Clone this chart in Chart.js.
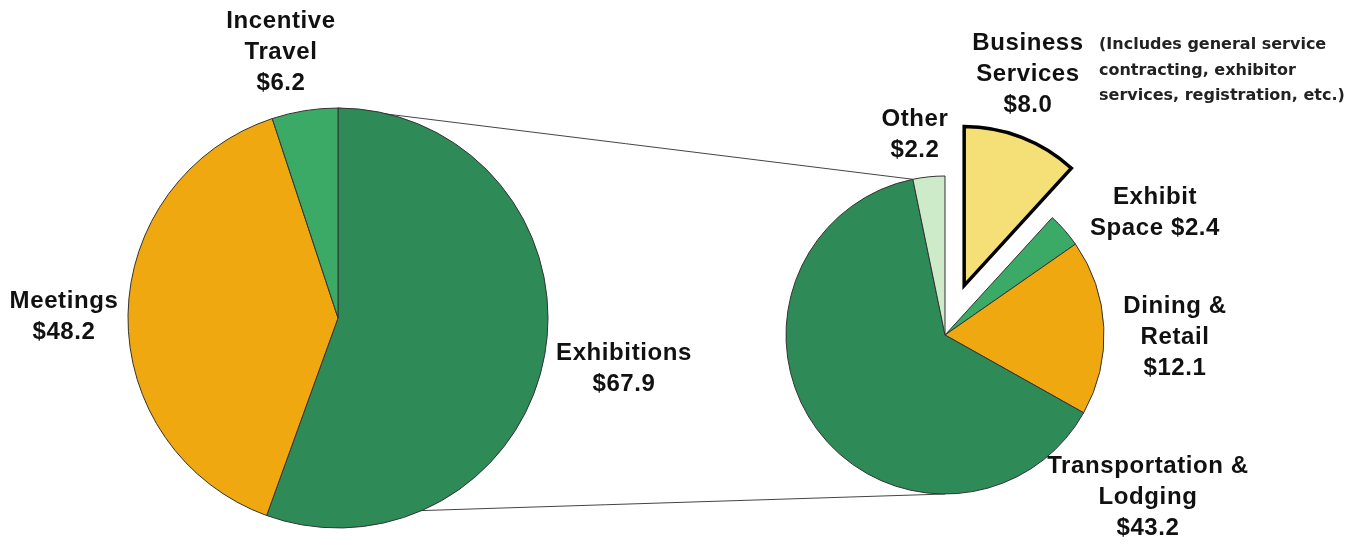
<!DOCTYPE html>
<html>
<head>
<meta charset="utf-8">
<script src="https://cdn.jsdelivr.net/npm/chart.js@4/dist/chart.umd.min.js"></script>
<style>
    html, body { margin: 0; padding: 0; background: #fff; }
    #stage { position: relative; width: 1368px; height: 544px; overflow: hidden; }
    canvas { position: absolute; }
    #lines { left: 0; top: 0; z-index: 0; }
    #left-pie { left: 118px; top: 98px; z-index: 1; }
    #right-pie { left: 725px; top: 115px; z-index: 1; }
    .lbl {
        position: absolute; z-index: 2;
        font-family: Arial, "Liberation Sans", sans-serif;
        font-weight: bold; font-size: 24px; line-height: 31px;
        letter-spacing: 0.6px; color: #111; text-align: center;
        white-space: nowrap; transform: translateX(-50%);
    }
    .note {
        position: absolute; z-index: 2; left: 1099px; top: 31px;
        font-family: "DejaVu Sans", sans-serif; font-weight: bold;
        font-size: 16px; line-height: 25.5px; color: #222; white-space: nowrap;
    }
</style>
</head>
<body>
<div id="stage">
    <canvas id="lines" width="1368" height="544"></canvas>
    <canvas id="left-pie" width="440" height="440"></canvas>
    <canvas id="right-pie" width="440" height="440"></canvas>

    <div class="lbl" style="left:281px; top:4px;">Incentive<br>Travel<br>$6.2</div>
    <div class="lbl" style="left:64px; top:284px;">Meetings<br>$48.2</div>
    <div class="lbl" style="left:624px; top:336px;">Exhibitions<br>$67.9</div>
    <div class="lbl" style="left:1028px; top:26px;">Business<br>Services<br>$8.0</div>
    <div class="lbl" style="left:915px; top:102px;">Other<br>$2.2</div>
    <div class="lbl" style="left:1155px; top:180px;">Exhibit<br>Space $2.4</div>
    <div class="lbl" style="left:1175px; top:289px;">Dining &amp;<br>Retail<br>$12.1</div>
    <div class="lbl" style="left:1148px; top:449px;">Transportation &amp;<br>Lodging<br>$43.2</div>
    <div class="note">(Includes general service<br>contracting, exhibitor<br>services, registration, etc.)</div>
</div>

<script>
// industry totals ($ billions)
const mainLabels = ['Exhibitions', 'Meetings', 'Incentive Travel'];
const mainValues = [67.9, 48.2, 6.2];
const mainColors = ['#2e8b57', '#f0a810', '#3aaa66'];

// breakdown of exhibitions spending
const subLabels = ['Business Services', 'Exhibit Space', 'Dining & Retail', 'Transportation & Lodging', 'Other'];
const subValues = [8.0, 2.4, 12.1, 43.2, 2.2];
const subColors = ['#f5e077', '#3aaa66', '#f0a810', '#2e8b57', '#cdebc8'];
const subExplode = [53, 0, 0, 0, 0];

// draws the arcs itself so one slice can be pulled out without resizing it
const explodePlugin = {
    id: 'explode',
    beforeDatasetDraw(chart, args, opts) {
        const dist = opts.distance || [];
        const ctx = chart.ctx;
        args.meta.data.forEach((arc, i) => {
            const d = dist[i] || 0;
            const mid = (arc.startAngle + arc.endAngle) / 2;
            ctx.save();
            ctx.translate(Math.cos(mid) * d, Math.sin(mid) * d);
            arc.draw(ctx);
            ctx.restore();
        });
        return false;
    }
};

function pieConfig(labels, values, colors, radius, borderWidths, borderColors, explode) {
    return {
        type: 'pie',
        data: {
            labels,
            datasets: [{
                data: values,
                backgroundColor: colors,
                borderColor: borderColors,
                borderWidth: borderWidths,
                borderJoinStyle: 'miter',
                hoverOffset: 0
            }]
        },
        options: {
            responsive: false,
            animation: false,
            radius,
            layout: { padding: 0 },
            plugins: {
                legend: { display: false },
                tooltip: { enabled: false },
                explode: { distance: explode }
            }
        },
        plugins: [explodePlugin]
    };
}

const leftChart = new Chart(document.getElementById('left-pie'),
    pieConfig(mainLabels, mainValues, mainColors, 210, 1, '#333', []));

const rightChart = new Chart(document.getElementById('right-pie'),
    pieConfig(subLabels, subValues, subColors, 159,
        [3.5, 1, 1, 1, 1], ['#000', '#333', '#333', '#333', '#333'], subExplode));

// connector lines between the two pies, taken from arc geometry
function arcPoint(canvasId, arc, angle) {
    const c = document.getElementById(canvasId);
    return {
        x: c.offsetLeft + arc.x + Math.cos(angle) * arc.outerRadius,
        y: c.offsetTop + arc.y + Math.sin(angle) * arc.outerRadius
    };
}

function drawConnectors() {
    const lctx = document.getElementById('lines').getContext('2d');
    const exh = leftChart.getDatasetMeta(0).data[0];
    const rArcs = rightChart.getDatasetMeta(0).data;
    const other = rArcs[rArcs.length - 1];

    const a1 = arcPoint('left-pie', exh, exh.startAngle);
    const b1 = arcPoint('right-pie', other, other.startAngle);
    const a2 = arcPoint('left-pie', exh, exh.endAngle);
    const b2 = arcPoint('right-pie', other, Math.PI / 2);

    lctx.strokeStyle = '#444';
    lctx.lineWidth = 1;
    lctx.beginPath();
    lctx.moveTo(a1.x, a1.y);
    lctx.lineTo(b1.x, b1.y);
    lctx.moveTo(a2.x, a2.y);
    lctx.lineTo(b2.x, b2.y);
    lctx.stroke();
}

drawConnectors();
</script>
</body>
</html>
